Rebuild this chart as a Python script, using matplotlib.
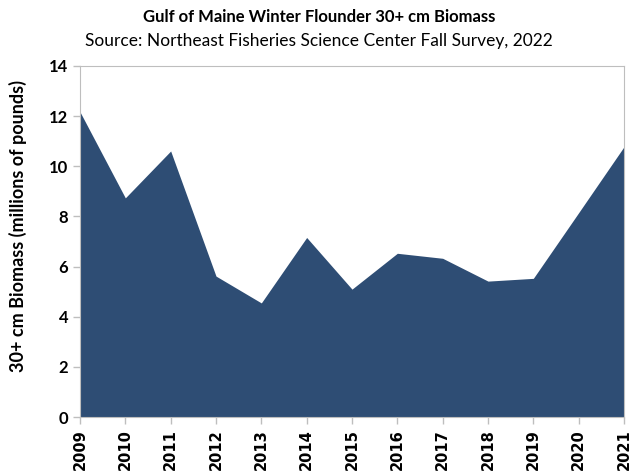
import matplotlib.pyplot as plt

years = [2009, 2010, 2011, 2012, 2013, 2014, 2015, 2016, 2017, 2018, 2019, 2020, 2021]
biomass = [12.17, 8.74, 10.61, 5.62, 4.55, 7.16, 5.1, 6.53, 6.33, 5.42, 5.53, 8.15, 10.78]

plt.rcParams["font.family"] = ["Lato", "DejaVu Sans"]

fig = plt.figure(figsize=(6.38, 4.76), dpi=100)
ax = fig.add_axes([80 / 638, 1 - 417 / 476, 544 / 638, 351 / 476])

ax.fill_between(years, biomass, 0, color="#2E4D74", linewidth=0)

ax.set_xlim(2009, 2021)
ax.set_ylim(0, 14)
ax.set_xticks(years)
ax.set_xticklabels([str(y) for y in years], rotation=90, fontsize=10.5,
                   fontweight="bold", family="DejaVu Sans")
ax.set_yticks(range(0, 15, 2))
ax.set_yticklabels([str(v) for v in range(0, 15, 2)], fontsize=12, fontweight="bold")
for s in ax.spines.values():
    s.set_color("#BEBEBE")
ax.tick_params(axis="both", color="#BEBEBE", length=5, width=1)
ax.set_ylabel("30+ cm Biomass (millions of pounds)", fontsize=13, fontweight="bold")
ax.yaxis.set_label_coords(-0.098, 0.545)

fig.text(0.5, 1 - 17 / 476, "Gulf of Maine Winter Flounder 30+ cm Biomass",
         ha="center", va="center", fontsize=12, fontweight="bold")
fig.text(0.5, 1 - 41 / 476, "Source: Northeast Fisheries Science Center Fall Survey, 2022",
         ha="center", va="center", fontsize=12.5)

fig.savefig("out.png", dpi=100)
